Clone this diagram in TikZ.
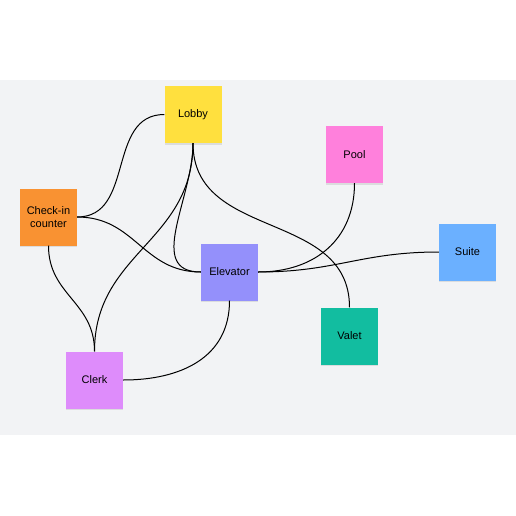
\documentclass[tikz,border=0pt]{standalone}
\usepackage{fontspec}
\setmainfont{Liberation Sans}
\usepackage{tikz}
\usetikzlibrary{positioning,shadows}
\definecolor{board}{HTML}{F2F3F5}
\definecolor{lobbyc}{HTML}{FFE03E}
\definecolor{checkc}{HTML}{F99232}
\definecolor{elevc}{HTML}{9490FB}
\definecolor{valetc}{HTML}{12BDA0}
\definecolor{poolc}{HTML}{FF80DC}
\definecolor{suitec}{HTML}{6BB0FF}
\definecolor{clerkc}{HTML}{DE8CFB}
\tikzset{node distance=2.5cm, auto, on grid,
  sticky/.style={minimum size=57pt, inner sep=2pt, align=center,
    font=\fontsize{11}{13.3}\selectfont,
    drop shadow={shadow xshift=0.4pt, shadow yshift=-1.6pt, opacity=0.2}},
  link/.style={line width=1pt, looseness=1.1}}

\begin{document}
\begin{tikzpicture}[x=1pt, y=1pt]
                \useasboundingbox (0,0) rectangle (516,-516);
                \fill[board] (0,-80) rectangle (516,-435);
                \node (L) [sticky, fill=lobbyc] at (193,-114.5) {Lobby};
                \node (C) [sticky, fill=checkc, below left=102.5pt and 144.5pt of L] {Check-in\\counter};
                \node (E) [sticky, fill=elevc, below right=157.5pt and 36.5pt of L] {Elevator};
                \node (P) [sticky, fill=poolc, right=161.5pt of L, yshift=-40pt] {Pool};
                \node (S) [sticky, fill=suitec, above right=20pt and 238pt of E] {Suite};
                \node (V) [sticky, fill=valetc, below right=64pt and 120pt of E] {Valet};
                \node (K) [sticky, fill=clerkc, below left=108pt and 135pt of E] {Clerk};
                \draw[link] (C.east) to[out=0, in=180] (L.west);
                \draw[link] (C.east) to[out=0, in=180] (E.west);
                \draw[link] (C.south) to[out=270, in=90] (K.north);
                \draw[link] (L.south) to[out=270, in=90] (K.north);
                \draw[link] (L.south) to[out=270, in=180] (E.west);
                \draw[link] (L.south) to[out=270, in=90] (V.north);
                \draw[link] (E.east) to[out=0, in=270] (P.south);
                \draw[link] (E.east) to[out=0, in=180] (S.west);
                \draw[link] (E.south) to[out=270, in=0] (K.east);
              \end{tikzpicture}
\end{document}
